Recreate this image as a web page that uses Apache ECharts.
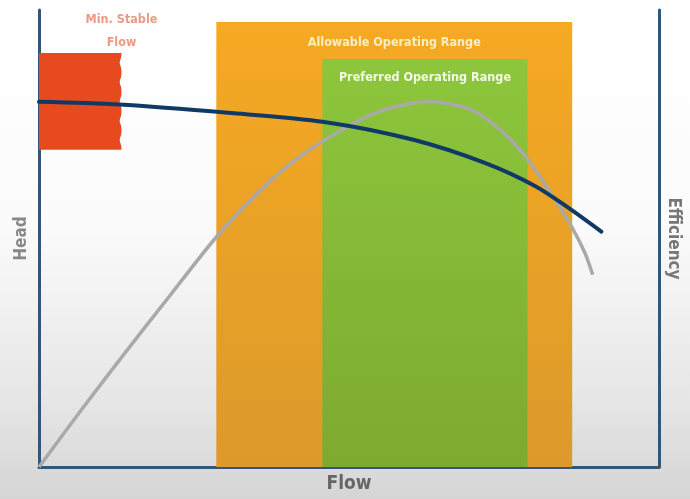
<!DOCTYPE html>
<html>
<head>
<meta charset="utf-8">
<script src="https://cdn.jsdelivr.net/npm/echarts@6/dist/echarts.min.js"></script>
<style>
html,body{margin:0;padding:0;background:#fff;}
#chart{width:690px;height:499px;}
</style>
</head>
<body>
<div id="chart"></div>
<script>
// ---- data ----
const headCurve = [[0,79.9],[12.9,79.3],[30.5,77.5],[46.0,75.5],[60.4,71.6],[72.0,66.5],[80.0,61.5],[85.3,56.8],[90.7,51.5]];
const efficiencyCurve = [[0,0],[7,12.8],[14,25.2],[21,37.3],[28.4,50],[34.2,58.5],[40,65.8],[46,71.5],[54.5,77.6],[62.9,79.9],[70,78],[75,73],[79,67],[82.5,60],[85.3,54],[88,47],[89.3,42.1]];
const allowableRange = [28.6, 86.0, 0, 97.4];   // x0, x1, y0, y1
const preferredRange = [45.7, 78.8, 0, 89.3];
const minStableFlow = [0, 13.3, 69.4, 90.6];
const labels = {
  allowable: 'Allowable Operating Range',
  preferred: 'Preferred Operating Range',
  minFlow: 'Min. Stable\nFlow',
  xName: 'Flow',
  yLeft: 'Head',
  yRight: 'Efficiency'
};

const FONT = '"Liberation Sans Narrow","DejaVu Sans Condensed","Roboto",sans-serif';
const axisColor = '#34557a';

const chart = echarts.init(document.getElementById('chart'), null, {renderer:'canvas'});
const vgrad = (c0, c1) => ({type:'linear',x:0,y:0,x2:0,y2:1,colorStops:[{offset:0,color:c0},{offset:1,color:c1}]});

const option = {
  animation:false,
  backgroundColor:{type:'linear',x:0,y:0,x2:0,y2:1,colorStops:[
    {offset:0,color:'#ffffff'},{offset:0.45,color:'#fbfbfb'},{offset:0.8,color:'#e6e6e6'},{offset:1,color:'#d5d5d5'}]},
  grid:{left:39,right:25,top:10,bottom:31},
  xAxis:{type:'value',min:0,max:100,
    name:labels.xName,nameLocation:'middle',nameGap:8,
    nameTextStyle:{color:'#666',fontSize:19,fontFamily:FONT,fontWeight:'bold',verticalAlign:'top'},
    axisLine:{show:true,lineStyle:{color:axisColor,width:3}},
    axisTick:{show:false},axisLabel:{show:false},splitLine:{show:false}},
  yAxis:[
    {type:'value',min:0,max:100,position:'left',
      name:labels.yLeft,nameLocation:'middle',nameGap:9,
      nameTextStyle:{color:'#888',fontSize:17,fontFamily:FONT,fontWeight:'bold'},
      axisLine:{show:true,onZero:false,lineStyle:{color:axisColor,width:3}},
      axisTick:{show:false},axisLabel:{show:false},splitLine:{show:false}},
    {type:'value',min:0,max:100,position:'right',
      name:labels.yRight,nameLocation:'middle',nameGap:6,nameRotate:-90,
      nameTextStyle:{color:'#777',fontSize:17,fontFamily:FONT,fontWeight:'bold'},
      axisLine:{show:true,onZero:false,lineStyle:{color:axisColor,width:3}},
      axisTick:{show:false},axisLabel:{show:false},splitLine:{show:false}}
  ],
  series:[
    {type:'line',data:[],z:1,silent:true,
      markArea:{silent:true,data:[
        [{xAxis:allowableRange[0],yAxis:allowableRange[2],
          itemStyle:{color:vgrad('#f6a922','#dc9a2b')},
          label:{show:true,position:'insideTop',distance:14,formatter:labels.allowable,
            color:'#fbeec0',fontSize:12.5,fontFamily:FONT,fontWeight:'bold'}},
         {xAxis:allowableRange[1],yAxis:allowableRange[3]}],
        [{xAxis:preferredRange[0],yAxis:preferredRange[2],
          itemStyle:{color:vgrad('#8dc63c','#7daa30')},
          label:{show:true,position:'insideTop',distance:12,formatter:labels.preferred,
            color:'#f3f9e6',fontSize:12.5,fontFamily:FONT,fontWeight:'bold'}},
         {xAxis:preferredRange[1],yAxis:preferredRange[3]}]
      ]}},
    {type:'custom',z:2,silent:true,data:[minStableFlow],
      renderItem:function(params, api){
        const tl = api.coord([minStableFlow[0], minStableFlow[3]]);
        const br = api.coord([minStableFlow[1], minStableFlow[2]]);
        const pts = [[tl[0], tl[1]]];
        const n = 40;
        for(let i=0;i<=n;i++){
          const y = tl[1] + (br[1]-tl[1])*i/n;
          const x = br[0] - 1.8*Math.pow(Math.abs(Math.sin(i/n*Math.PI*5)),4);
          pts.push([x,y]);
        }
        pts.push([tl[0], br[1]]);
        return {type:'group',children:[
          {type:'polygon',shape:{points:pts},style:{fill:'#e84a1f'}},
          {type:'text',x:br[0],y:tl[1]+1,style:{text:labels.minFlow,align:'center',verticalAlign:'bottom',
            fill:'#eb9a84',fontSize:12.5,lineHeight:23,fontFamily:FONT,fontWeight:'bold'}}
        ]};
      }},
    {type:'line',name:'Efficiency',data:efficiencyCurve,smooth:0.3,symbol:'none',z:3,
      lineStyle:{color:'#a9a9a9',width:3.5}},
    {type:'line',name:'Head',data:headCurve,smooth:0.3,symbol:'none',z:4,
      lineStyle:{color:'#0f3a66',width:4,cap:'round'}}
  ]
};
chart.setOption(option);
</script>
</body>
</html>
